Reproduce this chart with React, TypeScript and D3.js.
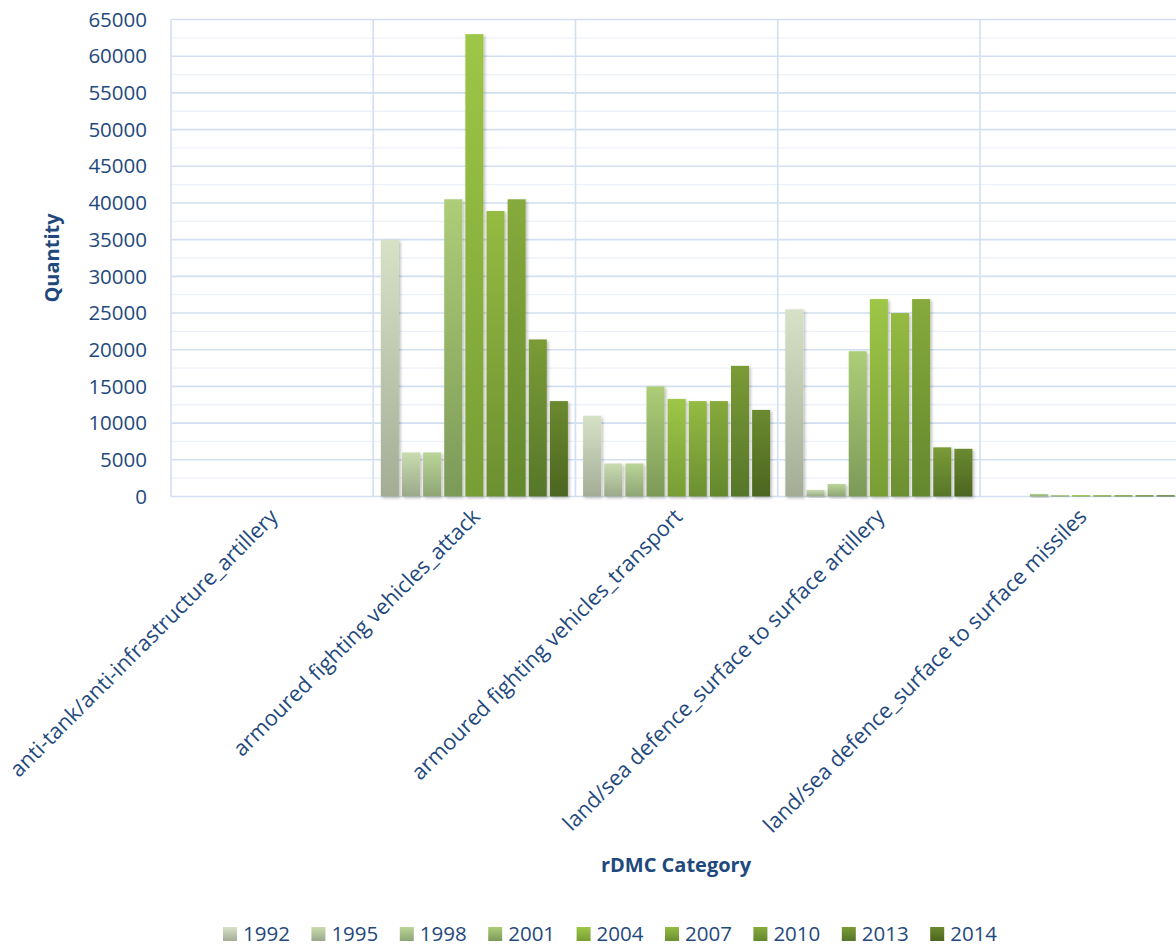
import React from "react";
import * as d3 from "d3";

// Categories along the x axis
const categories = [
  "anti-tank/anti-infrastructure_artillery",
  "armoured fighting vehicles_attack",
  "armoured fighting vehicles_transport",
  "land/sea defence_surface to surface artillery",
  "land/sea defence_surface to surface missiles",
];

// Series (years)
const years = ["1992", "1995", "1998", "2001", "2004", "2007", "2010", "2013", "2014"];

// Quantity per year, one entry per category
const v1992 = [0, 35000, 11000, 25500, 0];
const v1995 = [0, 6000, 4500, 900, 0];
const v1998 = [0, 6000, 4500, 1700, 350];
const v2001 = [0, 40500, 15000, 19800, 180];
const v2004 = [0, 63000, 13300, 26900, 180];
const v2007 = [0, 38900, 13000, 25000, 180];
const v2010 = [0, 40500, 13000, 26900, 180];
const v2013 = [0, 21400, 17800, 6700, 180];
const v2014 = [0, 13000, 11800, 6500, 180];

const yTicks = [0, 5000, 10000, 15000, 20000, 25000, 30000, 35000, 40000, 45000, 50000, 55000, 60000, 65000];

// Gradient stops (top, bottom) for each year
const topColors = ["#d6e2c6", "#c8dcae", "#bad597", "#aecd78", "#9ec647", "#95bb42", "#87aa3c", "#7b9b36", "#6b8a30"];
const bottomColors = ["#a4ac96", "#9aa98a", "#8ea574", "#7c9a58", "#789d35", "#6c8f31", "#63882d", "#56762a", "#4c6520"];

const series = [v1992, v1995, v1998, v2001, v2004, v2007, v2010, v2013, v2014];

const W = 1176;
const H = 947;
const left = 171;
const top = 19.5;
const bottom = 496.5;
const catWidth = 202.25;

const textColor = "#1f497d";
const font = "'Open Sans', 'DejaVu Sans', sans-serif";

export default function App() {
  const x0 = d3
    .scaleBand<string>()
    .domain(categories)
    .range([left, left + catWidth * categories.length])
    .paddingInner(0)
    .paddingOuter(0);
  const x1 = d3
    .scaleBand<string>()
    .domain(years)
    .range([0, x0.bandwidth()])
    .paddingInner(0.147)
    .paddingOuter(0.36);
  const y = d3.scaleLinear().domain([0, 65000]).range([bottom, top]);

  const minorTicks = d3.range(2500, 65000, 5000);
  const legendX0 = 223;
  const legendStep = 88.4;
  const legendY = 934;

  return (
    <svg
      width={W}
      height={H}
      style={{ position: "absolute", left: 0, top: 0, background: "#fff" }}
      fontFamily={font}
    >
      <defs>
        {years.map((yr, i) => (
          <linearGradient key={yr} id={`g${yr}`} x1="0" y1="0" x2="0" y2="1">
            <stop offset="0%" stopColor={topColors[i]} />
            <stop offset="100%" stopColor={bottomColors[i]} />
          </linearGradient>
        ))}
        <filter id="shadow" x="-30%" y="-10%" width="160%" height="130%">
          <feDropShadow dx="1.5" dy="1.5" stdDeviation="1.8" floodColor="#000" floodOpacity="0.28" />
        </filter>
      </defs>

      {/* minor gridlines */}
      {minorTicks.map((t) => (
        <line key={`m${t}`} x1={left} x2={W} y1={y(t)} y2={y(t)} stroke="#edf2f9" strokeWidth={1.3} />
      ))}
      {/* major gridlines */}
      {yTicks.map((t) => (
        <line key={`t${t}`} x1={left} x2={W} y1={y(t)} y2={y(t)} stroke="#d2dff1" strokeWidth={1.6} />
      ))}
      {/* category separators */}
      {categories.map((c) => (
        <line key={`v${c}`} x1={x0(c)!} x2={x0(c)!} y1={top} y2={bottom} stroke="#d2dff1" strokeWidth={1.6} />
      ))}

      {/* bars */}
      {categories.map((c, ci) => (
        <g key={c} transform={`translate(${x0(c)},0)`}>
          {years.map((yr, si) => {
            const v = series[si][ci];
            if (v <= 0) return null;
            return (
              <rect
                key={yr}
                x={x1(yr)!}
                y={y(v)}
                width={x1.bandwidth()}
                height={bottom - y(v)}
                fill={`url(#g${yr})`}
                filter="url(#shadow)"
              />
            );
          })}
        </g>
      ))}

      {/* y tick labels */}
      {yTicks.map((t) => (
        <text
          key={`l${t}`}
          x={147}
          y={y(t)}
          dy="0.35em"
          textAnchor="end"
          fontSize={20.5}
          fill={textColor}
        >
          {t}
        </text>
      ))}

      {/* x tick labels */}
      {categories.map((c) => {
        const cx = x0(c)! + x0.bandwidth() / 2 + 7;
        const cy = 518;
        return (
          <text
            key={`x${c}`}
            transform={`translate(${cx},${cy}) rotate(-45)`}
            textAnchor="end"
            fontSize={21.6}
            fill={textColor}
          >
            {c}
          </text>
        );
      })}

      {/* axis titles */}
      <text x={676} y={872} textAnchor="middle" fontSize={20} fontWeight="bold" fill={textColor}>
        rDMC Category
      </text>
      <text
        transform={`translate(59,258) rotate(-90)`}
        textAnchor="middle"
        fontSize={20}
        fontWeight="bold"
        fill={textColor}
      >
        Quantity
      </text>

      {/* legend */}
      {years.map((yr, i) => {
        const lx = legendX0 + i * legendStep;
        return (
          <g key={`lg${yr}`} transform={`translate(${lx},${legendY})`}>
            <rect x={0} y={-7} width={14} height={14} fill={`url(#g${yr})`} />
            <text x={20} y={0} dy="0.35em" fontSize={20.5} fill={textColor}>
              {yr}
            </text>
          </g>
        );
      })}
    </svg>
  );
}
